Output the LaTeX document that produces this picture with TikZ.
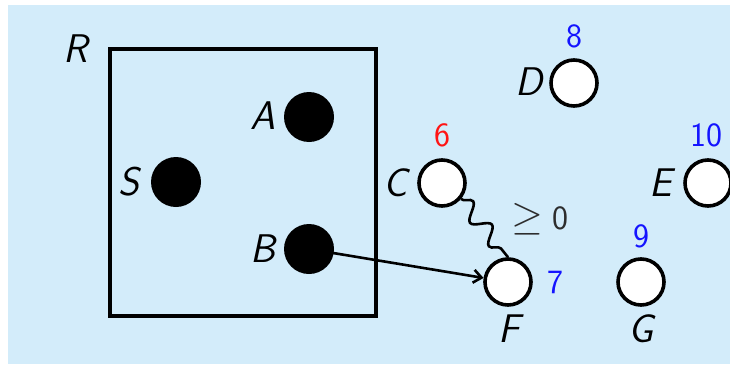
\documentclass[tikz,border=0pt]{standalone}
\usetikzlibrary{arrows.meta,decorations.pathmorphing}
\definecolor{bgblue}{RGB}{211,236,250}
\definecolor{numblue}{RGB}{20,20,255}
\definecolor{numred}{RGB}{255,20,20}
\definecolor{labgray}{RGB}{45,45,45}
\begin{document}
\begin{tikzpicture}[x=1pt,y=-1pt,
  vtx/.style={circle,draw=black,fill=white,line width=3.6pt,minimum size=46pt,inner sep=0pt},
  dot/.style={circle,fill=black,minimum size=50pt,inner sep=0pt},
  lbl/.style={inner sep=0pt,font=\fontsize{40}{44}\selectfont\sffamily\itshape},
  num/.style={inner sep=0pt,font=\fontsize{34}{38}\selectfont\sffamily},
]
\useasboundingbox (0,0) rectangle (730,364);
\clip (0,0) rectangle (730,364);
\fill[bgblue] (8,5) rectangle (730,364);
% region R
\node[draw=black,line width=4.5pt,minimum width=266pt,minimum height=267pt,inner sep=0pt] (R) at (243,182.5) {};
\node[lbl] (Rl) at (76,49) {R};
% dots
\node[dot] (A) at (309,117) {};
\node[dot] (S) at (176,182) {};
\node[dot] (B) at (309,249) {};
\node[lbl] (Al) at (263,116) {A};
\node[lbl] (Sl) at (129,182) {S};
\node[lbl] (Bl) at (263,249) {B};
% vertices
\node[vtx] (C) at (442,183) {};
\node[vtx] (D) at (574,83) {};
\node[vtx] (E) at (708,183) {};
\node[vtx] (F) at (508,282) {};
\node[vtx] (G) at (641,282) {};
\node[lbl] (Cl) at (396,183) {C};
\node[lbl] (Dl) at (529,82) {D};
\node[lbl] (El) at (661,183) {E};
\node[lbl] (Fl) at (509,329) {F};
\node[lbl] (Gl) at (641,329) {G};
\node[num,text=numred] (Cn) at (442,135) {6};
\node[num,text=numblue] (Dn) at (574,36) {8};
\node[num,text=numblue] (En) at (706,135) {10};
\node[num,text=numblue] (Fn) at (555,282) {7};
\node[num,text=numblue] (Gn) at (641,236) {9};
% connectors
\draw[line width=2.6pt,-{Straight Barb[length=8pt,width=13pt,line width=2.6pt]}] (B.center) -- (F);
\draw[line width=2.6pt,decorate,decoration={snake,segment length=30pt,amplitude=8pt,pre length=0pt,post length=1pt}] (C.-40) -- (F.north);
\node[num,text=labgray,anchor=center] (lab) at (540,219) {\scalebox{4.1}{\fontsize{10}{12}\selectfont$\geq$}\hspace{10pt}0};
\end{tikzpicture}
\end{document}
